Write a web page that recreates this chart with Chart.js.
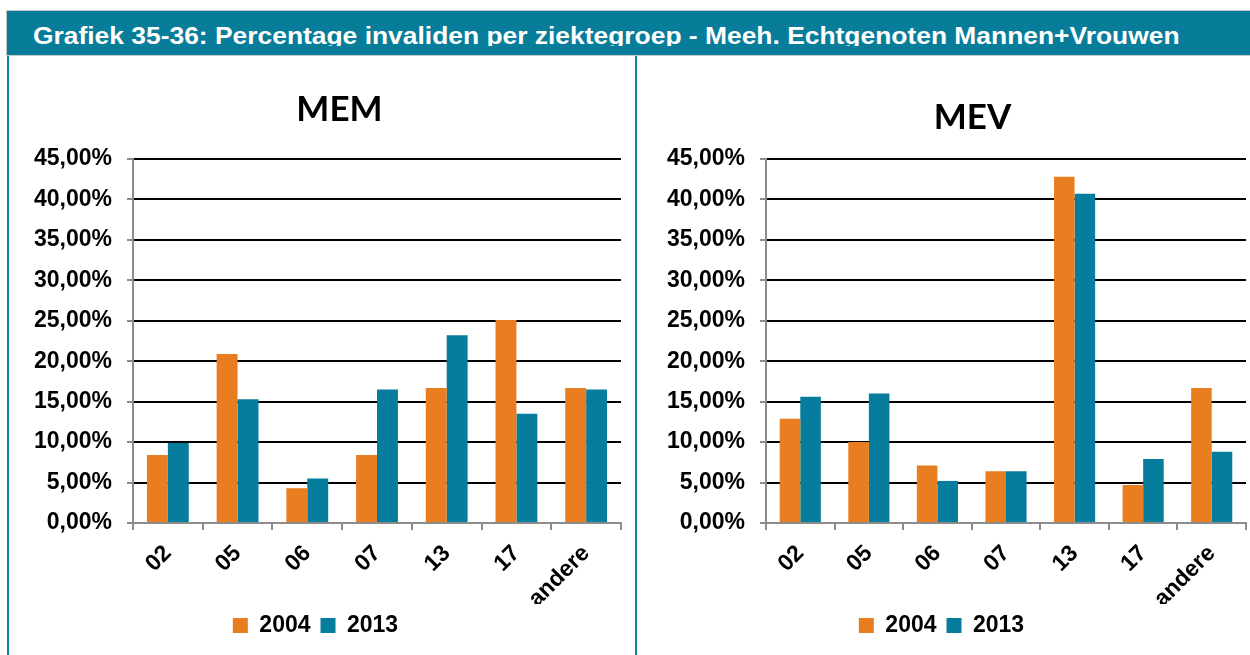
<!DOCTYPE html>
<html>
<head>
<meta charset="utf-8">
<script src="https://cdn.jsdelivr.net/npm/chart.js@4.4.1/dist/chart.umd.min.js"></script>
<style>
  body { margin: 0; width: 1250px; height: 655px; background: #fff; position: relative; overflow: hidden;
         font-family: "Liberation Sans", Arial, sans-serif; }
  #kop { position: absolute; left: 6px; top: 10px; width: 1244px; height: 46px; background: #077d9a;
         border: 1px solid #c8c8c8; border-right: none; box-sizing: border-box; overflow: hidden; }
  #kop span { position: absolute; left: 26px; top: 13px; height: 22px; overflow: hidden; color: #fff;
              font-weight: bold; font-size: 24px; line-height: 24px; white-space: nowrap;
              transform: scaleX(1.1); transform-origin: 0 0; }
  .lijn { position: absolute; top: 56px; width: 2px; height: 599px; background: #0b86a6; }
  canvas { position: absolute; top: 56px; }
</style>
</head>
<body>
<div id="kop"><span>Grafiek 35-36: Percentage invaliden per ziektegroep - Meeh. Echtgenoten Mannen+Vrouwen</span></div>
<div class="lijn" style="left:7px"></div>
<div class="lijn" style="left:635px"></div>
<canvas id="memChart" width="624" height="599" style="left:10px"></canvas>
<canvas id="mevChart" width="613" height="599" style="left:637px"></canvas>
<script>
// ziektegroepen en jaren
const categorieen = ['02', '05', '06', '07', '13', '17', 'andere'];
const jaren = ['2004', '2013'];

// MEM (percentages)
const mem2004 = [8.4, 20.9, 4.3, 8.4, 16.7, 25.1, 16.7];
const mem2013 = [9.9, 15.3, 5.5, 16.5, 23.2, 13.5, 16.5];

// MEV (percentages)
const mev2004 = [12.9, 10.0, 7.1, 6.4, 42.8, 4.7, 16.7];
const mev2013 = [15.6, 16.0, 5.2, 6.4, 40.7, 7.9, 8.8];

const yTicks = [0, 5, 10, 15, 20, 25, 30, 35, 40, 45];

const oranje = '#e87e1f';
const blauw = '#067d9c';
const grijs = '#8c8c8c';

Chart.defaults.font.family = '"Liberation Sans", Arial, sans-serif';
Chart.defaults.color = '#000';

// titel iets naar rechts schuiven
const titelVerschuiving = {
    id: 'titelVerschuiving',
    afterLayout(chart, args, opts) {
        chart.titleBlock.left += opts.dx * 2;
    }
};

function maakGrafiek(id, titel, reeksA, reeksB, titelBoven, titelDx, yBreedte, rechts) {
    const ctx = document.getElementById(id).getContext('2d');
    return new Chart(ctx, {
        type: 'bar',
        data: {
            labels: categorieen,
            datasets: [
                { label: jaren[0], data: reeksA, backgroundColor: oranje },
                { label: jaren[1], data: reeksB, backgroundColor: blauw }
            ]
        },
        plugins: [titelVerschuiving],
        options: {
            responsive: false,
            animation: false,
            layout: { padding: { left: 0, right: rechts, top: 0, bottom: 8 } },
            datasets: { bar: { categoryPercentage: 0.6, barPercentage: 1 } },
            plugins: {
                titelVerschuiving: { dx: titelDx },
                title: {
                    display: true,
                    text: titel,
                    color: '#000',
                    font: { family: 'Lato', size: 35, weight: 'bold' },
                    padding: { top: titelBoven, bottom: 103 - 42 - titelBoven }
                },
                legend: {
                    position: 'bottom',
                    labels: {
                        boxWidth: 15,
                        boxHeight: 15,
                        padding: 10,
                        color: '#000',
                        font: { size: 23, weight: 'bold' }
                    }
                },
                tooltip: { enabled: false }
            },
            scales: {
                x: {
                    grid: { offset: true, drawOnChartArea: false, color: grijs, tickLength: 7, lineWidth: 2 },
                    border: { color: grijs, width: 2 },
                    ticks: {
                        minRotation: 45,
                        maxRotation: 45,
                        padding: 10,
                        color: '#000',
                        font: { size: 23, weight: 'bold' }
                    },
                    afterFit: function(scale) { scale.height = 81; }
                },
                y: {
                    min: 0,
                    max: 45,
                    afterBuildTicks: function(scale) {
                        scale.ticks = yTicks.map(v => ({ value: v }));
                    },
                    ticks: {
                        padding: 15,
                        color: '#000',
                        font: { size: 23, weight: 'bold' },
                        callback: v => v.toFixed(2).replace('.', ',') + '%'
                    },
                    grid: {
                        color: c => (c.tick && c.tick.value === 0) ? grijs : '#000',
                        tickColor: grijs,
                        tickLength: 6,
                        lineWidth: 2
                    },
                    border: { color: grijs, width: 2 },
                    afterFit: function(scale) { scale.width = yBreedte; }
                }
            }
        }
    });
}

maakGrafiek('memChart', 'MEM', mem2004, mem2013, 33, 24, 123, 13);
maakGrafiek('mevChart', 'MEV', mev2004, mev2013, 41, 31, 129, 4);
</script>
</body>
</html>
